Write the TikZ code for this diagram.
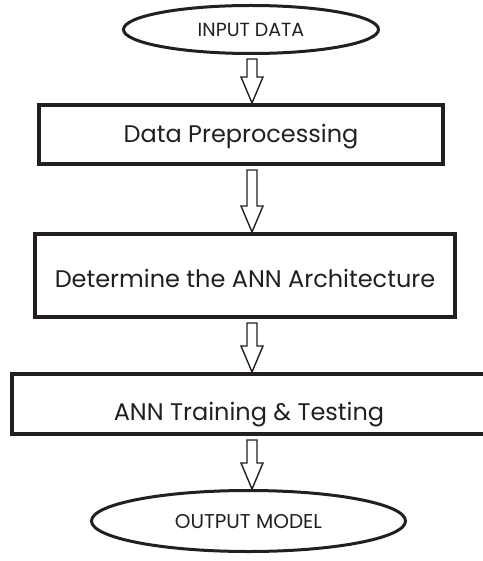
\documentclass[tikz,border=0pt]{standalone}
\usepackage{fontspec}
\setmainfont{Poppins}
\definecolor{ink}{RGB}{35, 31, 32}
\usetikzlibrary{shapes.geometric, calc}

% hollow block arrow from node #1 down to node #2
\newcommand{\hollowdown}[2]{%
  \draw[hollowarrow] ($(#1.south -| axis)+(-5,4)$) -- ($(#2.north -| axis)+(-5,-26)$)
    -- ++(-6,0) -- (#2.north -| axis) -- ++(11,-26) -- ++(-6,0)
    -- ($(#1.south -| axis)+(5,4)$) -- cycle;}

\begin{document}
\begin{tikzpicture}[x=1pt, y=-1pt,
    terminal/.style={draw=ink, line width=3pt, ellipse, text=ink, inner sep=0pt,
                 text height=13.5pt, text depth=0pt},
    procbox/.style={draw=ink, line width=4pt, rectangle, text=ink, inner sep=0pt,
                 font=\fontsize{24}{28}\selectfont, text height=17pt, text depth=0pt},
    hollowarrow/.style={draw=ink, line width=1.4pt, fill=white, line join=miter}
]
    \useasboundingbox (0,0) rectangle (482,561);
    \coordinate (axis) at (252,0);

    \node[terminal, minimum width=255pt, minimum height=48pt,
          font=\fontsize{19}{22}\selectfont] (inp) at (251,29.5) {INPUT DATA};

    \node[procbox, minimum width=404pt, minimum height=59pt] (pre) at (241,134.5)
        {Data Preprocessing};

    \node[procbox, minimum width=420pt, minimum height=83pt, text height=24pt]
        (arch) at (245,275.5) {Determine the ANN Architecture};

    \node[procbox, minimum width=474pt, minimum height=60pt, text height=33pt]
        (train) at (249,404) {ANN Training \& Testing};

    \node[terminal, minimum width=314pt, minimum height=61pt, text height=15pt,
          font=\fontsize{20}{24}\selectfont] (out) at (248.5,521) {OUTPUT MODEL};

    % Arrows
    \hollowdown{inp}{pre}
    \hollowdown{pre}{arch}
    \hollowdown{arch}{train}
    \hollowdown{train}{out}
\end{tikzpicture}
\end{document}
